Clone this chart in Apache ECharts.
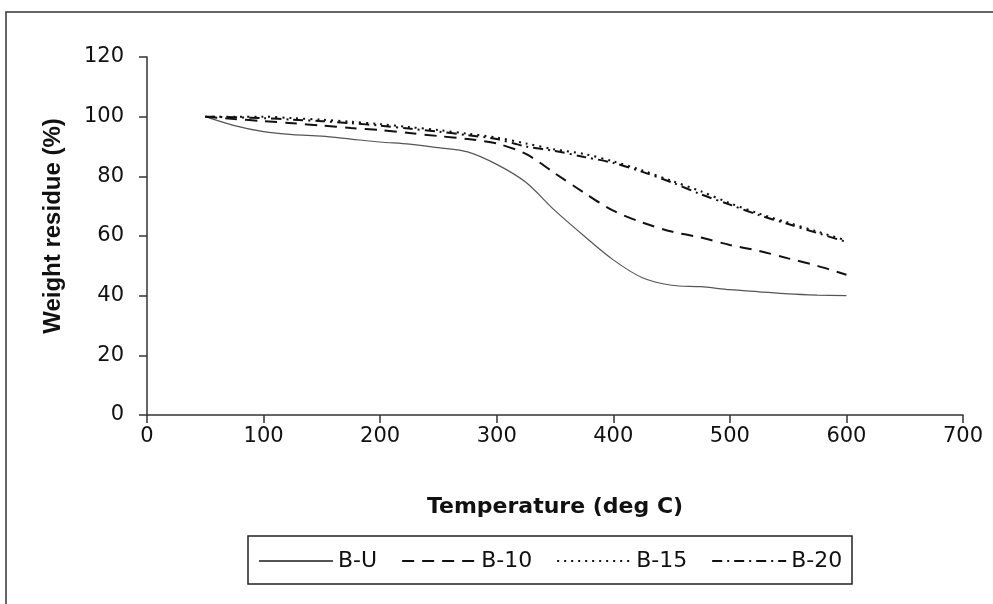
<!DOCTYPE html>
<html>
<head>
<meta charset="utf-8">
<script src="https://cdn.jsdelivr.net/npm/echarts@6/dist/echarts.min.js"></script>
<style>
html,body{margin:0;padding:0;background:#fff;}
#c{width:993px;height:604px;}
</style>
</head>
<body>
<div id="c"></div>
<script>
var temps = [50, 75, 100, 125, 150, 175, 200, 225, 250, 275, 300, 325, 350, 375, 400, 425, 450, 475, 500, 525, 550, 575, 600];
var bU  = [100, 97, 95, 94, 93.5, 92.5, 91.5, 90.8, 89.6, 88.2, 84, 78, 68.5, 60, 52, 46, 43.5, 43, 42, 41.3, 40.6, 40.2, 40];
var b10 = [100, 99.2, 98.5, 97.8, 97, 96.2, 95.5, 94.5, 93.5, 92.5, 91, 87.5, 81, 74.5, 68.5, 64.5, 61.5, 59.5, 57, 55, 52.5, 50, 47];
var b15 = [100, 100, 100, 99.5, 99, 98.3, 97.5, 96.5, 95.5, 94.3, 93, 91, 89, 87.5, 85, 82, 78.5, 75, 71, 67.5, 64.5, 61.5, 58.5];
var b20 = [100, 99.8, 99.5, 99, 98.5, 97.8, 97, 96, 95, 93.8, 92.5, 90, 88.5, 86.5, 84.5, 81.5, 78, 74, 70.5, 67, 64, 61, 58];
var names = ['B-U', 'B-10', 'B-15', 'B-20'];
var xTicks = [0, 100, 200, 300, 400, 500, 600, 700];
var yTicks = [0, 20, 40, 60, 80, 100, 120];

function pairs(ys) { return temps.map(function (t, i) { return [t, ys[i]]; }); }

var wide = 'DejaVu Sans, Verdana, sans-serif';
var narrow = 'Liberation Sans, Arial, sans-serif';
var chart = echarts.init(document.getElementById('c'), null, {renderer: 'canvas'});
chart.setOption({
  backgroundColor: '#ffffff',
  animation: false,
  graphic: [
    {type: 'rect', shape: {x: 6, y: 12, width: 1200, height: 800}, style: {fill: 'none', stroke: '#333', lineWidth: 1.5}, silent: true},
    {type: 'rect', shape: {x: 248, y: 536, width: 604, height: 48}, style: {fill: 'none', stroke: '#222', lineWidth: 1.5}, silent: true}
  ],
  grid: {left: 147, right: 30, top: 57, bottom: 189},
  legend: {
    data: names,
    left: 253, top: 545,
    itemWidth: 74, itemHeight: 14, itemGap: 24,
    itemStyle: {color: 'rgba(0,0,0,0)', borderColor: 'rgba(0,0,0,0)', borderWidth: 0, opacity: 0},
    textStyle: {fontFamily: wide, fontSize: 22, color: '#111'}
  },
  xAxis: {
    type: 'value', min: 0, max: 700, interval: 100,
    name: 'Temperature (deg C)', nameLocation: 'middle', nameGap: 81,
    nameTextStyle: {fontFamily: wide, fontSize: 22, fontWeight: 'bold', color: '#111'},
    axisLine: {lineStyle: {color: '#333', width: 1.5}},
    axisTick: {show: true, length: 8, inside: false, lineStyle: {color: '#333', width: 1.5}},
    axisLabel: {fontFamily: wide, fontSize: 21, color: '#111', margin: 11},
    splitLine: {show: false}
  },
  yAxis: {
    type: 'value', min: 0, max: 120, interval: 20,
    name: 'Weight residue (%)', nameLocation: 'middle', nameGap: 82,
    nameTextStyle: {fontFamily: narrow, fontSize: 24, fontWeight: 'bold', color: '#111', padding: [0, 0, 0, 20]},
    axisLine: {show: true, lineStyle: {color: '#333', width: 1.5}},
    axisTick: {show: true, length: 8, inside: false, lineStyle: {color: '#333', width: 1.5}},
    axisLabel: {fontFamily: wide, fontSize: 21, color: '#111', margin: 23},
    splitLine: {show: false}
  },
  series: [
    {name: names[0], type: 'line', data: pairs(bU), symbol: 'none', smooth: 0.3,
     lineStyle: {color: '#555', width: 1.2, type: 'solid'}, itemStyle: {color: '#555'}},
    {name: names[1], type: 'line', data: pairs(b10), symbol: 'none', smooth: 0.3,
     lineStyle: {color: '#111', width: 2, type: [12, 8]}, itemStyle: {color: '#111'}},
    {name: names[2], type: 'line', data: pairs(b15), symbol: 'none', smooth: 0.3,
     lineStyle: {color: '#111', width: 2, type: [2, 5]}, itemStyle: {color: '#111'}},
    {name: names[3], type: 'line', data: pairs(b20), symbol: 'none', smooth: 0.3,
     lineStyle: {color: '#111', width: 2, type: [10, 5, 2, 5]}, itemStyle: {color: '#111'}}
  ]
});
</script>
</body>
</html>
